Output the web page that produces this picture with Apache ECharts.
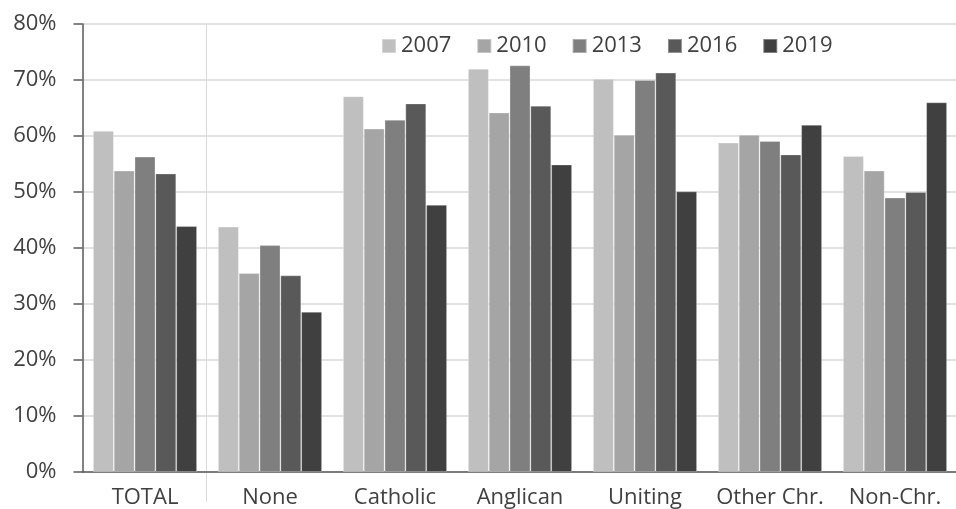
<!DOCTYPE html>
<html>
<head>
<meta charset="utf-8">
<script src="https://cdn.jsdelivr.net/npm/echarts@6/dist/echarts.min.js"></script>
<style>
  html, body { margin: 0; padding: 0; background: #ffffff; }
  #chart { width: 956px; height: 509px; }
</style>
</head>
<body>
<div id="chart"></div>
<script>
// Religious groups along the x axis
const categories = ['TOTAL', 'None', 'Catholic', 'Anglican', 'Uniting', 'Other Chr.', 'Non-Chr.'];

// Survey years (one bar series per year)
const years = ['2007', '2010', '2013', '2016', '2019'];

// Share (%) per group, one array per survey year
const values2007 = [60.9, 43.8, 67.1, 72.0, 70.2, 58.8, 56.4];
const values2010 = [53.8, 35.5, 61.3, 64.2, 60.2, 60.2, 53.8];
const values2013 = [56.3, 40.5, 62.9, 72.6, 70.0, 59.1, 49.0];
const values2016 = [53.3, 35.1, 65.8, 65.4, 71.3, 56.7, 50.0];
const values2019 = [43.9, 28.6, 47.7, 54.9, 50.1, 62.0, 66.0];

// Y axis ticks
const yTicks = [0, 10, 20, 30, 40, 50, 60, 70, 80];

const seriesValues = [values2007, values2010, values2013, values2016, values2019];
const colors = ['#bfbfbf', '#a5a5a5', '#7f7f7f', '#595959', '#404040'];

const FONT = '"Open Sans", "Noto Sans", sans-serif';

const yMin = yTicks[0];
const yMax = yTicks[yTicks.length - 1];

const chart = echarts.init(document.getElementById('chart'), null, { renderer: 'canvas' });

const barSeries = years.map((y, i) => ({
  name: y,
  type: 'bar',
  data: seriesValues[i],
  barGap: '0%',
  barCategoryGap: '16.8%',
  itemStyle: {
    color: colors[i],
    borderColor: 'rgba(255,255,255,0.35)',
    borderWidth: 0.8
  }
}));

chart.setOption({
  animation: false,
  backgroundColor: '#ffffff',
  textStyle: { fontFamily: FONT },
  color: colors,
  grid: {
    left: 82.5,
    right: -1.5,
    top: 24,
    bottom: 37,
    containLabel: false,
    outerBoundsMode: 'none'
  },
  legend: {
    data: years,
    left: 381,
    top: 35,
    padding: 0,
    itemWidth: 14,
    itemHeight: 14,
    itemGap: 25,
    icon: 'rect',
    textStyle: { fontFamily: FONT, fontSize: 22, color: '#404040' }
  },
  xAxis: {
    type: 'category',
    data: categories,
    boundaryGap: true,
    axisLine: { show: true, lineStyle: { color: '#595959', width: 1.5 } },
    axisTick: { show: false },
    splitLine: { show: false },
    axisLabel: {
      fontFamily: FONT,
      fontSize: 22,
      color: '#404040',
      margin: 15,
      interval: 0
    }
  },
  yAxis: {
    type: 'value',
    min: yMin,
    max: yMax,
    interval: 10,
    axisLine: { show: true, lineStyle: { color: '#595959', width: 1.5 } },
    axisTick: { show: true, length: 9, inside: false, lineStyle: { color: '#595959', width: 1.5 } },
    splitLine: { show: true, lineStyle: { color: '#d9d9d9', width: 1.5 } },
    axisLabel: {
      fontFamily: FONT,
      fontSize: 22,
      color: '#404040',
      margin: 26,
      formatter: '{value}%'
    }
  },
  series: barSeries
});

// Vertical separator between TOTAL and the individual groups, placed on the
// band boundary between the two categories and running down into the labels.
const xTotal = chart.convertToPixel({ xAxisIndex: 0 }, categories[0]);
const xNext = chart.convertToPixel({ xAxisIndex: 0 }, categories[1]);
const sepX = Math.round((xTotal + xNext) / 2) - 2 + 0.5;
const sepTop = chart.convertToPixel({ yAxisIndex: 0 }, yMax);
const sepAxis = chart.convertToPixel({ yAxisIndex: 0 }, yMin);
const sepDrop = 30;

chart.setOption({
  graphic: [{
    type: 'line',
    silent: true,
    z: -1,
    shape: { x1: sepX, y1: sepTop, x2: sepX, y2: sepAxis + sepDrop },
    style: { stroke: '#d9d9d9', lineWidth: 1 }
  }]
});
</script>
</body>
</html>
